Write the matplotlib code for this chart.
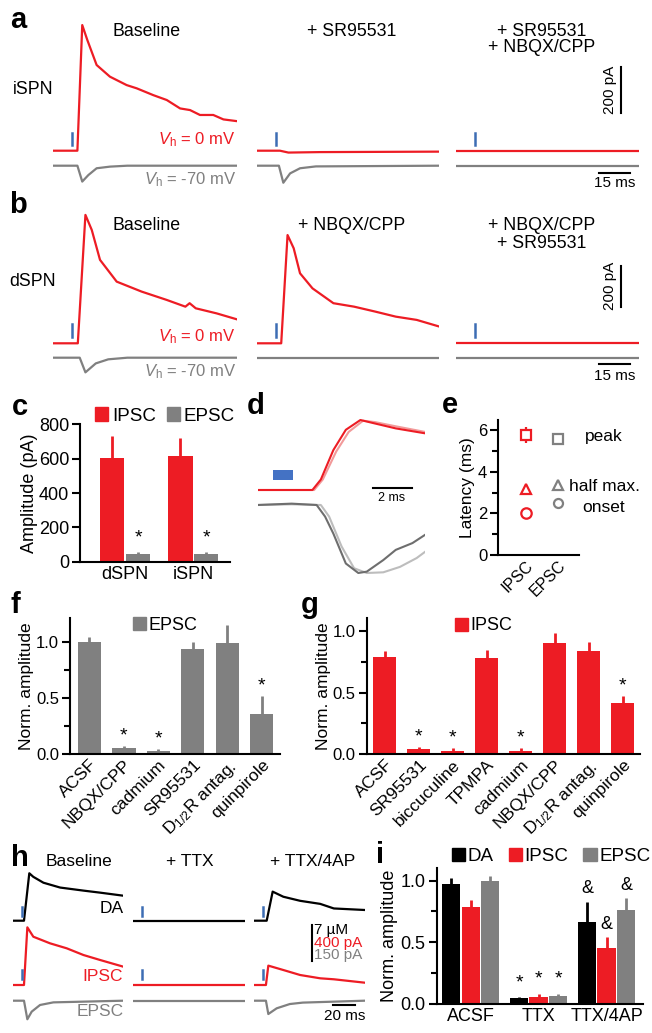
import numpy as np
import matplotlib
matplotlib.use('Agg')
import matplotlib.pyplot as plt
from matplotlib.patches import Rectangle, Patch

plt.rcParams['font.family'] = ['Liberation Sans', 'DejaVu Sans']
plt.rcParams['mathtext.fontset'] = 'custom'
plt.rcParams['mathtext.rm'] = 'Liberation Sans'
plt.rcParams['mathtext.it'] = 'Liberation Sans:italic'

RED = '#ed1c24'
LRED = '#f29a9a'
GRAY = '#808080'
LGRAY = '#bdbdbd'
BLUE = '#3d6db4'
BLACK = '#000000'

# ---------------- data ----------------
# panel a (iSPN) : time (ms), current (pA)
a_base_ipsc_t = [0, 11.4, 13.7, 16.1, 20.5, 26.8, 34.7, 39.5, 47.3, 53.7, 60, 64.7, 69.4, 75.7, 80.5, 86.5]
a_base_ipsc_i = [0, 0, 538, 474, 367, 317, 281, 267, 238, 217, 181, 174, 153, 153, 134, 127]
a_base_epsc_t = [0, 11.4, 13.7, 16.6, 20.5, 26.8, 35, 86.5]
a_base_epsc_i = [0, 0, -68, -40, -11, -4, 0, 0]
a_sr_ipsc_t = [0, 11, 15, 30, 86.5]
a_sr_ipsc_i = [0, 0, -8, -6, -4]
a_sr_epsc_t = [0, 10.5, 12.6, 15.8, 20.5, 28, 86.5]
a_sr_epsc_i = [0, 0, -73, -33, -11, -3, 0]
a_blk_ipsc_t = [0, 86.5]
a_blk_ipsc_i = [0, 0]
a_blk_epsc_t = [0, 86.5]
a_blk_epsc_i = [0, 0]

# panel b (dSPN)
b_base_ipsc_t = [0, 11.6, 15.2, 18.2, 22.1, 30.0, 41.8, 53.7, 62.5, 64.5, 67.4, 77.3, 86.8]
b_base_ipsc_i = [0, 0, 631, 557, 410, 303, 254, 213, 180, 197, 172, 147, 118]
b_base_epsc_t = [0, 12.5, 15.2, 20.1, 26, 35, 86.8]
b_base_epsc_i = [0, 0, -72, -28, -8, 0, 0]
b_nbqx_ipsc_t = [0, 11.6, 14.6, 17.5, 20.5, 26.4, 36.3, 46.1, 56, 65.8, 75.7, 86.5]
b_nbqx_ipsc_i = [0, 0, 532, 467, 344, 270, 197, 180, 156, 131, 115, 82]
b_nbqx_epsc_t = [0, 86.5]
b_nbqx_epsc_i = [0, 0]
b_blk_ipsc_t = [0, 86.5]
b_blk_ipsc_i = [0, 0]
b_blk_epsc_t = [0, 86.5]
b_blk_epsc_i = [0, 0]

# panel c
c_groups = ['dSPN', 'iSPN']
c_ipsc = [603, 618]
c_ipsc_err = [130, 102]
c_epsc = [42, 42]
c_epsc_err = [14, 12]

# panel d (normalized)
d_ipsc1_t = [0, 2.86, 3.3, 3.95, 4.6, 5.36, 6.12, 7.2, 8.72]
d_ipsc1_v = [0, 0, 0.15, 0.57, 0.86, 1.0, 0.95, 0.88, 0.81]
d_ipsc2_t = [0, 2.95, 3.4, 4.1, 4.75, 5.5, 6.12, 7.2, 8.72]
d_ipsc2_v = [0, 0, 0.15, 0.55, 0.83, 0.99, 0.97, 0.91, 0.83]
d_epsc1_t = [0, 1.78, 3.08, 3.52, 3.95, 4.6, 5.25, 5.69, 6.55, 7.2, 8.07, 8.72]
d_epsc1_v = [0, 0.02, 0, -0.17, -0.42, -0.86, -1.0, -0.98, -0.81, -0.66, -0.56, -0.44]
d_epsc2_t = [0, 1.78, 3.3, 3.73, 4.38, 5.03, 5.69, 6.55, 7.42, 8.29, 8.72]
d_epsc2_v = [0, 0.01, 0, -0.17, -0.61, -0.93, -1.0, -0.99, -0.91, -0.78, -0.69]

# panel e (latency, ms)
e_groups = ['IPSC', 'EPSC']
e_peak = [5.76, 5.55]
e_peak_err = [0.38, 0.26]
e_half = [3.15, 3.36]
e_onset = [2.03, 2.48]
e_onset_err = [0.12, 0.08]

# panel f (EPSC, normalized)
f_labels = ['ACSF', 'NBQX/CPP', 'cadmium', 'SR95531', r'D$_{1/2}$R antag.', 'quinpirole']
f_vals = [1.0, 0.055, 0.03, 0.93, 0.985, 0.36]
f_err = [0.045, 0.02, 0.015, 0.07, 0.165, 0.155]
f_sig = [False, True, True, False, False, True]

# panel g (IPSC, normalized)
g_labels = ['ACSF', 'SR95531', 'biccuculine', 'TPMPA', 'cadmium', 'NBQX/CPP', r'D$_{1/2}$R antag.', 'quinpirole']
g_vals = [0.79, 0.04, 0.03, 0.785, 0.03, 0.905, 0.835, 0.42]
g_err = [0.05, 0.02, 0.025, 0.06, 0.02, 0.08, 0.075, 0.055]
g_sig = [False, True, True, False, True, False, False, True]

# panel h : DA (uM), IPSC (pA), EPSC (pA)
h_base_da_t = [0, 10.4, 15.3, 19, 28.3, 43.7, 65.2, 80.6, 102]
h_base_da = [0, 0, 9.3, 8.6, 7.45, 6.5, 5.9, 5.5, 4.9]
h_base_ipsc_t = [0, 10.4, 13.5, 19, 34.4, 49.8, 65.2, 80.6, 102]
h_base_ipsc = [0, 0, 646, 541, 467, 411, 336, 280, 205]
h_base_epsc_t = [0, 10.4, 13.5, 17.5, 25.2, 37.5, 102]
h_base_epsc = [0, 0, -78, -46, -18, -7, 0]
h_ttx_da_t = [0, 102]
h_ttx_da = [0, 0]
h_ttx_ipsc_t = [0, 102]
h_ttx_ipsc = [0, 0]
h_ttx_epsc_t = [0, 102]
h_ttx_epsc = [0, 0]
h_4ap_da_t = [0, 11.7, 17.2, 27, 42.5, 61, 73.6, 102]
h_4ap_da = [0, 0, 5.7, 4.7, 3.9, 3.3, 2.4, 2.1]
h_4ap_ipsc_t = [0, 11.0, 13.2, 27, 42.5, 61, 73.6, 102]
h_4ap_ipsc = [0, 0, 217, 168, 112, 75, 64, 26]
h_4ap_epsc_t = [0, 11, 13.2, 20.9, 33, 45, 102]
h_4ap_epsc = [0, 0, -56, -32, -14, -8, 0]

# panel i
i_groups = ['ACSF', 'TTX', 'TTX/4AP']
i_da = [0.975, 0.045, 0.665]
i_da_err = [0.045, 0.015, 0.165]
i_ipsc = [0.79, 0.055, 0.45]
i_ipsc_err = [0.05, 0.03, 0.09]
i_epsc = [1.0, 0.065, 0.76]
i_epsc_err = [0.04, 0.02, 0.1]

# ---------------- figure ----------------
W, H = 652, 1033
fig = plt.figure(figsize=(W / 100, H / 100), dpi=100)


def ax_px(l, t, r, b):
    return fig.add_axes([l / W, 1 - b / H, (r - l) / W, (b - t) / H])


def ftext(x, y, s, **kw):
    kw.setdefault('ha', 'center')
    kw.setdefault('va', 'center')
    return fig.text(x / W, 1 - y / H, s, **kw)


def sweep(l, r, top, bottom, base_y, px_per_ms, upp):
    ax = ax_px(l, top, r, bottom)
    ax.set_xlim(0, (r - l) / px_per_ms)
    ax.set_ylim(-(bottom - base_y) * upp, (base_y - top) * upp)
    ax.axis('off')
    return ax


def letter(x, y, s):
    ftext(x, y, s, fontsize=21, fontweight='bold')


# ---- panels a & b ----
cols = [(53.3, 236.7), (256.7, 439.3), (456.3, 639.3)]
pxms = 31.7 / 15.0


def trace_row(top, bottom, red_y, gray_y, upp, data, stim_y, sbar_y, tbar_y):
    axs = []
    goff = -(gray_y - red_y) * upp
    for (l, r), (it, ii, et, ei) in zip(cols, data):
        ax = sweep(l, r, top, bottom, red_y, pxms, upp)
        ax.plot(et, np.array(ei) + goff, color=GRAY, lw=1.6, solid_joinstyle='round')
        ax.plot(it, ii, color=RED, lw=1.6, solid_joinstyle='round')
        ax.plot([9, 9], [(red_y - stim_y[1]) * upp, (red_y - stim_y[0]) * upp], color=BLUE, lw=1.8)
        axs.append(ax)
    ax = axs[2]
    x_sb = (621.3 - 456.3) / pxms
    ax.plot([x_sb, x_sb], [(red_y - sbar_y[1]) * upp, (red_y - sbar_y[0]) * upp], color='k', lw=1.5, clip_on=False)
    ax.plot([(598.7 - 456.3) / pxms, (598.7 - 456.3) / pxms + 15], [(red_y - tbar_y) * upp] * 2,
            color='k', lw=1.5, clip_on=False)
    return axs


trace_row(15, 190, 150.7, 165.7, 200 / 46.7,
          [(a_base_ipsc_t, a_base_ipsc_i, a_base_epsc_t, a_base_epsc_i),
           (a_sr_ipsc_t, a_sr_ipsc_i, a_sr_epsc_t, a_sr_epsc_i),
           (a_blk_ipsc_t, a_blk_ipsc_i, a_blk_epsc_t, a_blk_epsc_i)],
          (133, 145), (66.7, 113.3), 172.7)
trace_row(205, 380, 343.3, 357.7, 200 / 40.7,
          [(b_base_ipsc_t, b_base_ipsc_i, b_base_epsc_t, b_base_epsc_i),
           (b_nbqx_ipsc_t, b_nbqx_ipsc_i, b_nbqx_epsc_t, b_nbqx_epsc_i),
           (b_blk_ipsc_t, b_blk_ipsc_i, b_blk_epsc_t, b_blk_epsc_i)],
          (324, 336.7), (266, 306.7), 364.3)

TFS = 12.8
VFS = 12
letter(18, 20, 'a')
ftext(146.7, 31, 'Baseline', fontsize=TFS)
ftext(352, 31, '+ SR95531', fontsize=TFS)
ftext(541.3, 31, '+ SR95531', fontsize=TFS)
ftext(541.3, 48, '+ NBQX/CPP', fontsize=TFS)
ftext(33, 90, 'iSPN', fontsize=TFS)
ftext(236, 140, r'$\mathit{V}_{\mathrm{h}}$ = 0 mV', fontsize=VFS, color=RED, ha='right')
ftext(236, 180, r'$\mathit{V}_{\mathrm{h}}$ = -70 mV', fontsize=VFS, color=GRAY, ha='right')
ftext(610.3, 90, '200 pA', fontsize=11, rotation=90)
ftext(615, 183, '15 ms', fontsize=11)

letter(18, 205, 'b')
ftext(146.7, 226, 'Baseline', fontsize=TFS)
ftext(352, 226, '+ NBQX/CPP', fontsize=TFS)
ftext(541.3, 226, '+ NBQX/CPP', fontsize=TFS)
ftext(541.3, 243.3, '+ SR95531', fontsize=TFS)
ftext(33, 281.7, 'dSPN', fontsize=TFS)
ftext(236, 336.7, r'$\mathit{V}_{\mathrm{h}}$ = 0 mV', fontsize=VFS, color=RED, ha='right')
ftext(236, 371.7, r'$\mathit{V}_{\mathrm{h}}$ = -70 mV', fontsize=VFS, color=GRAY, ha='right')
ftext(610.3, 286, '200 pA', fontsize=11, rotation=90)
ftext(615, 375.7, '15 ms', fontsize=11)


def style_bar_axes(ax, fs):
    for s in ['top', 'right']:
        ax.spines[s].set_visible(False)
    for s in ['left', 'bottom']:
        ax.spines[s].set_linewidth(1.5)
    ax.tick_params(axis='y', direction='out', length=6, width=1.5, labelsize=fs, pad=2)
    ax.tick_params(axis='y', which='minor', direction='out', length=4, width=1.5)
    ax.tick_params(axis='x', length=0, labelsize=fs, pad=3)


def up_err(ax, x, v, e, color):
    ax.errorbar(x, v, yerr=[np.zeros(len(e)), e], fmt='none', ecolor=color, elinewidth=2, capsize=0, zorder=1)


# ---- panel c ----
letter(20, 406.7, 'c')
axc = ax_px(80.4, 424.3, 230, 561.7)
xc = np.arange(len(c_groups))
up_err(axc, xc - 0.19, c_ipsc, c_ipsc_err, RED)
up_err(axc, xc + 0.19, c_epsc, c_epsc_err, GRAY)
axc.bar(xc - 0.19, c_ipsc, width=0.36, color=RED, zorder=2)
axc.bar(xc + 0.19, c_epsc, width=0.36, color=GRAY, zorder=2)
axc.set_xlim(-0.656, 1.54)
axc.set_ylim(0, 800)
axc.set_yticks([0, 200, 400, 600, 800])
axc.set_xticks(xc)
axc.set_xticklabels(c_groups)
style_bar_axes(axc, 13)
axc.set_ylabel('Amplitude (pA)', fontsize=13, labelpad=1)
for x, v, e in zip(xc + 0.19, c_epsc, c_epsc_err):
    axc.annotate('*', (x, v + e), xytext=(0, 4), textcoords='offset points', ha='center', va='bottom', fontsize=14)
axc.legend(handles=[Patch(color=RED, label='IPSC'), Patch(color=GRAY, label='EPSC')],
           loc='center left', bbox_to_anchor=(95 / W, 1 - 416 / H), bbox_transform=fig.transFigure,
           ncol=2, frameon=False, fontsize=13.5, handlelength=0.7, handleheight=0.7,
           handletextpad=0.2, columnspacing=0.6, borderpad=0, borderaxespad=0)

# ---- panel d ----
letter(256, 406, 'd')
axd = ax_px(257.5, 415, 425, 580)
axd.set_xlim(0, (425 - 257.5) / 19.2)
axd.set_ylim(-(580 - 490) / 70, (490 - 415) / 70)
axd.axis('off')
goff_d = -(505 - 490) / 70
gsc = 68 / 70
axd.plot(d_epsc2_t, np.array(d_epsc2_v) * gsc + goff_d, color=LGRAY, lw=1.5)
axd.plot(d_epsc1_t, np.array(d_epsc1_v) * gsc + goff_d, color='#6e6e6e', lw=1.5)
axd.plot(d_ipsc2_t, d_ipsc2_v, color=LRED, lw=1.5)
axd.plot(d_ipsc1_t, d_ipsc1_v, color=RED, lw=1.5)
axd.add_patch(Rectangle(((273 - 257.5) / 19.2, (490 - 480) / 70), 20 / 19.2, 10 / 70, color='#4472c4', lw=0))
axd.plot([(373.3 - 257.5) / 19.2, (373.3 - 257.5) / 19.2 + 2], [(490 - 488) / 70] * 2, color='k', lw=1.5)
ftext(391.7, 498.3, '2 ms', fontsize=9)

# ---- panel e ----
letter(450, 405, 'e')
axe = ax_px(498.3, 420, 579, 555)
xe = np.arange(len(e_groups))
axe.set_xlim(-0.87, 1.67)
axe.set_ylim(0, (555 - 420) / 20.83)
for x, col, ms in zip(xe, [RED, GRAY], [7.5, 6.5]):
    axe.errorbar([x], [e_peak[x]], yerr=[e_peak_err[x]], fmt='none', ecolor=col,
                 elinewidth=1.6, capsize=0, clip_on=False, zorder=2)
    axe.plot([x], [e_peak[x]], 's', mfc='white', mec=col, ms=ms, mew=1.6, zorder=3)
    axe.plot([x], [e_half[x]], '^', mfc='white', mec=col, ms=ms, mew=1.6, zorder=3)
    axe.errorbar([x], [e_onset[x]], yerr=[e_onset_err[x]], fmt='none', ecolor=col,
                 elinewidth=1.6, capsize=0, zorder=2)
    axe.plot([x], [e_onset[x]], 'o', mfc='white', mec=col, ms=ms, mew=1.6, zorder=3)
for s in ['top', 'right']:
    axe.spines[s].set_visible(False)
for s in ['left', 'bottom']:
    axe.spines[s].set_linewidth(1.5)
axe.set_yticks([0, 2, 4, 6])
axe.set_yticks([1, 3, 5], minor=True)
axe.tick_params(axis='y', direction='out', length=6, width=1.5, labelsize=12, pad=2)
axe.tick_params(axis='y', which='minor', direction='out', length=4, width=1.5)
axe.set_xticks(xe)
axe.set_xticklabels(e_groups, rotation=45, ha='right', rotation_mode='anchor', fontsize=11.5)
axe.tick_params(axis='x', length=0, pad=2)
axe.set_ylabel('Latency (ms)', fontsize=12.5, labelpad=2)
ftext(604, 436.7, 'peak', fontsize=12.5)
ftext(569, 486.7, 'half max.', fontsize=12.5, ha='left')
ftext(604, 508, 'onset', fontsize=12.5)


# ---- panels f & g ----
def norm_bars(l, t, r, b, ymax, xlo, xhi, labels, vals, errs, sig, color, leg_label, leg_xy):
    ax = ax_px(l, t, r, b)
    x = np.arange(len(vals))
    up_err(ax, x, vals, errs, color)
    ax.bar(x, vals, width=0.68, color=color, zorder=2)
    ax.set_xlim(xlo, xhi)
    ax.set_ylim(0, ymax)
    ax.set_yticks([0, 0.5, 1.0])
    ax.set_yticklabels(['0.0', '0.5', '1.0'])
    ax.set_yticks([0.25, 0.75], minor=True)
    ax.set_xticks(x)
    ax.set_xticklabels(labels, rotation=45, ha='right', rotation_mode='anchor')
    style_bar_axes(ax, 12)
    ax.tick_params(axis='x', labelsize=12.5, pad=2)
    ax.set_ylabel('Norm. amplitude', fontsize=12.5, labelpad=1)
    for xi, v, e, s in zip(x, vals, errs, sig):
        if s:
            ax.annotate('*', (xi, v + e), xytext=(0, 1), textcoords='offset points', ha='center', va='bottom', fontsize=14)
    ax.legend(handles=[Patch(color=color, label=leg_label)], loc='center left',
              bbox_to_anchor=(leg_xy[0] / W, 1 - leg_xy[1] / H), bbox_transform=fig.transFigure,
              frameon=False, fontsize=13, handlelength=0.7, handleheight=0.7, handletextpad=0.15,
              borderpad=0, borderaxespad=0)
    return ax


letter(15, 605, 'f')
norm_bars(70, 618, 280, 754.3, (754.3 - 618) / 112.7, -0.56, 5.53, f_labels, f_vals, f_err, f_sig,
          GRAY, 'EPSC', (133, 625))
letter(310, 605, 'g')
norm_bars(366.7, 618, 640, 754.3, (754.3 - 618) / 123.3, -0.53, 7.51, g_labels, g_vals, g_err, g_sig,
          RED, 'IPSC', (455, 626))

# ---- panel h ----
letter(20, 858.3, 'h')
hcols = [(12.7, 123.3), (133.3, 245), (254, 365)]
h_pxms = 21.7 / 20.0
h_unit = 35.7  # px per scale-bar unit
red_y_h, da_y_h, gray_y_h = 985, 920.7, 1000.7
da_off = (red_y_h - da_y_h) / h_unit
gr_off = -(gray_y_h - red_y_h) / h_unit
hdata = [(h_base_da_t, h_base_da, h_base_ipsc_t, h_base_ipsc, h_base_epsc_t, h_base_epsc),
         (h_ttx_da_t, h_ttx_da, h_ttx_ipsc_t, h_ttx_ipsc, h_ttx_epsc_t, h_ttx_epsc),
         (h_4ap_da_t, h_4ap_da, h_4ap_ipsc_t, h_4ap_ipsc, h_4ap_epsc_t, h_4ap_epsc)]
haxs = []
for (l, r), (dt, dv, it, iv, et, ev) in zip(hcols, hdata):
    ax = sweep(l, r, 865, 1025, red_y_h, h_pxms, 1 / h_unit)
    ax.plot(dt, np.array(dv) / 7 + da_off, color='k', lw=1.6)
    ax.plot(it, np.array(iv) / 400, color=RED, lw=1.6)
    ax.plot(et, np.array(ev) / 150 + gr_off, color=GRAY, lw=1.6)
    ax.plot([8.3, 8.3], [da_off + 4.7 / h_unit, da_off + 14 / h_unit], color=BLUE, lw=1.8)
    ax.plot([8.3, 8.3], [6 / h_unit, 15 / h_unit], color=BLUE, lw=1.8)
    haxs.append(ax)
axr = haxs[2]
xs = (311.7 - 254) / h_pxms
axr.plot([xs, xs], [(985 - 960.7) / h_unit, (985 - 925) / h_unit], color='k', lw=1.5, clip_on=False)
x0 = (333.3 - 254) / h_pxms
axr.plot([x0, x0 + 20], [-(1005 - 985) / h_unit] * 2, color='k', lw=1.5, clip_on=False)
ftext(79, 861.7, 'Baseline', fontsize=12.5)
ftext(190, 861.7, '+ TTX', fontsize=12.5)
ftext(313, 861.7, '+ TTX/4AP', fontsize=12.5)
ftext(123.3, 908.3, 'DA', fontsize=12.5, ha='right')
ftext(123.3, 976.7, 'IPSC', fontsize=12.5, ha='right', color=RED)
ftext(123.3, 1011.7, 'EPSC', fontsize=12.5, ha='right', color=GRAY)
ftext(314, 930, '7 µM', fontsize=11, ha='left')
ftext(314, 942.5, '400 pA', fontsize=11, ha='left', color=RED)
ftext(314, 955, '150 pA', fontsize=11, ha='left', color=GRAY)
ftext(344.3, 1016, '20 ms', fontsize=11)

# ---- panel i ----
letter(380, 855, 'i')
axi = ax_px(436.7, 868.3, 643.3, 1004)
xi = np.arange(len(i_groups))
off, bw = 0.287, 0.27
for dx, vals, errs, col in [(-off, i_da, i_da_err, BLACK), (0, i_ipsc, i_ipsc_err, RED), (off, i_epsc, i_epsc_err, GRAY)]:
    up_err(axi, xi + dx, vals, errs, col)
    axi.bar(xi + dx, vals, width=bw, color=col, zorder=2)
    for k in range(len(xi)):
        if k == 1:
            axi.annotate('*', (xi[k] + dx, vals[k] + errs[k]), xytext=(0, 4), textcoords='offset points',
                         ha='center', va='bottom', fontsize=14)
        if k == 2:
            axi.annotate('&', (xi[k] + dx, vals[k] + errs[k]), xytext=(0, 3), textcoords='offset points',
                         ha='center', va='bottom', fontsize=13)
axi.set_xlim(-0.5, 2.54)
axi.set_ylim(0, 1.1)
axi.set_yticks([0, 0.5, 1.0])
axi.set_yticklabels(['0.0', '0.5', '1.0'])
axi.set_yticks([0.25, 0.75], minor=True)
axi.set_xticks(xi)
axi.set_xticklabels(i_groups)
style_bar_axes(axi, 13)
axi.set_ylabel('Norm. amplitude', fontsize=13, labelpad=2)
axi.legend(handles=[Patch(color=BLACK, label='DA'), Patch(color=RED, label='IPSC'), Patch(color=GRAY, label='EPSC')],
           loc='center left', bbox_to_anchor=(451.7 / W, 1 - 856.7 / H), bbox_transform=fig.transFigure,
           ncol=3, frameon=False, fontsize=13.5, handlelength=0.7, handleheight=0.7,
           handletextpad=0.15, columnspacing=0.8, borderpad=0, borderaxespad=0)

fig.savefig('out.png', dpi=100)
